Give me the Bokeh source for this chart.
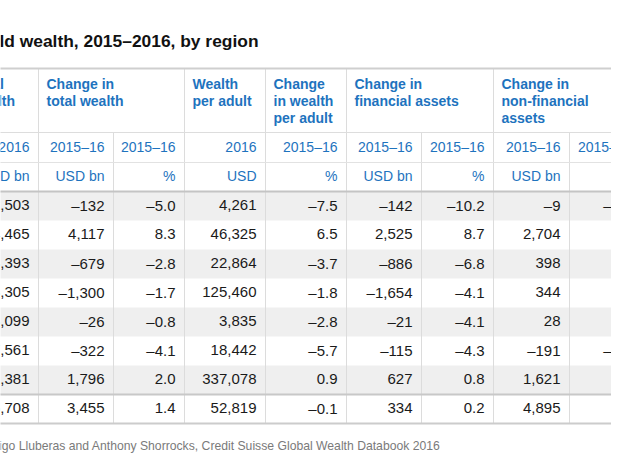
from bokeh.plotting import figure
from bokeh.models import Range1d, ColumnDataSource
from bokeh.embed import file_html
from bokeh.resources import INLINE

# ---------------- data ----------------
title_text = "Table 1 Change in household wealth, 2015\u20132016, by region"
source_text = ("Source: James Davies, Rodrigo Lluberas and Anthony Shorrocks, "
               "Credit Suisse Global Wealth Databook 2016")

group_labels = ["Total\nwealth", "Change in\ntotal wealth", "Wealth\nper adult",
                "Change\nin wealth\nper adult", "Change in\nfinancial assets",
                "Change in\nnon-financial\nassets"]
group_spans = [(0, 1), (1, 3), (3, 4), (4, 5), (5, 7), (7, 9)]
period_labels = ["2016", "2015\u201316", "2015\u201316", "2016", "2015\u201316",
                 "2015\u201316", "2015\u201316", "2015\u201316", "2015\u201316"]
unit_labels = ["USD bn", "USD bn", "%", "USD", "%", "USD bn", "%", "USD bn", "%"]

regions = ["Africa", "Asia-Pacific", "China", "Europe", "India",
           "Latin America", "North America", "World"]
total_wealth_2016 = [2503, 54465, 23393, 73305, 3099, 7561, 91381, 255708]
change_total_usd = [-132, 4117, -679, -1300, -26, -322, 1796, 3455]
change_total_pct = [-5.0, 8.3, -2.8, -1.7, -0.8, -4.1, 2.0, 1.4]
wealth_per_adult = [4261, 46325, 22864, 125460, 3835, 18442, 337078, 52819]
change_per_adult_pct = [-7.5, 6.5, -3.7, -1.8, -2.8, -5.7, 0.9, -0.1]
change_fin_usd = [-142, 2525, -886, -1654, -21, -115, 627, 334]
change_fin_pct = [-10.2, 8.7, -6.8, -4.1, -4.1, -4.3, 0.8, 0.2]
change_nonfin_usd = [-9, 2704, 398, 344, 28, -191, 1621, 4895]
change_nonfin_pct = [-0.6, 9.4, 3.3, 0.9, 1.0, -2.6, 5.6, 3.6]

columns = [(total_wealth_2016, "int"), (change_total_usd, "int"), (change_total_pct, "pct"),
           (wealth_per_adult, "int"), (change_per_adult_pct, "pct"),
           (change_fin_usd, "int"), (change_fin_pct, "pct"),
           (change_nonfin_usd, "int"), (change_nonfin_pct, "pct")]

# ---------------- layout (pixel space of the picture) ----------------
edges = [-37, 38, 113, 184, 265, 346, 421, 493, 569, 641]
table_top = 68
hdr1_bottom = 132
hdr2_bottom = 162
hdr3_bottom = 191
row_h = 29
n_rows = len(regions)
table_bottom = hdr3_bottom + row_h * n_rows
DY = -6.5  # text baseline correction

BLUE = "#1e73be"
TEXT = "#1a1a1a"
FONT = "Liberation Sans"


def fmt(v, kind):
    s = f"{abs(v):,}" if kind == "int" else f"{abs(v):.1f}"
    return ("\u2013" if v < 0 else "") + s


p = figure(width=611, height=457, output_backend="svg", toolbar_location=None,
           x_range=Range1d(0, 611), y_range=Range1d(457, 0), min_border=0)
p.axis.visible = False
p.grid.visible = False
p.outline_line_color = None
p.background_fill_color = "white"
p.border_fill_color = "white"

# zebra rows
zl, zr, zt, zb = [], [], [], []
for i in range(n_rows):
    if i % 2 == 0:
        zl.append(edges[0]); zr.append(edges[-1])
        zt.append(hdr3_bottom + i * row_h); zb.append(hdr3_bottom + (i + 1) * row_h)
p.quad(left=zl, right=zr, top=zt, bottom=zb, fill_color="#efefef", line_color=None)

# vertical lines
group_edges = sorted(set([edges[a] for a, b in group_spans] + [edges[-1]]))
vx0, vy0, vx1, vy1 = [], [], [], []
for e in edges:
    vx0.append(e); vx1.append(e)
    vy0.append(table_top if e in group_edges else hdr1_bottom)
    vy1.append(table_bottom)
p.segment(x0=vx0, y0=vy0, x1=vx1, y1=vy1, line_color="#dcdcdc", line_width=1)

# horizontal lines
def hline(y, color, w):
    p.segment(x0=[edges[0]], y0=[y], x1=[edges[-1]], y1=[y], line_color=color, line_width=w)

hline(table_top, "#cfcfcf", 2)
hline(hdr1_bottom, "#dddddd", 1)
hline(hdr2_bottom, "#e2e2e2", 1)
hline(hdr3_bottom, "#c4c4c4", 2)
hline(hdr3_bottom + row_h * (n_rows - 1), "#c8c8c8", 2)
hline(table_bottom, "#cccccc", 2)

# title and source
p.text(x=[258], y=[46.5 + DY], text=[title_text], text_align="right",
       text_baseline="alphabetic", text_font_size="17.4px", text_font_style="bold",
       text_color="#111111", text_font={"value": FONT})
p.text(x=[440], y=[451.5 + DY], text=[source_text], text_align="right",
       text_baseline="alphabetic", text_font_size="12.2px",
       text_color="#7a7a7a", text_font={"value": FONT})

# group headers (bold, blue, left aligned)
gx, gy, gt = [], [], []
for lab, (a, b) in zip(group_labels, group_spans):
    for k, line in enumerate(lab.split("\n")):
        gx.append(edges[a] + 8); gy.append(89.5 + 17 * k + DY); gt.append(line)
p.text(x=gx, y=gy, text=gt, text_align="left", text_baseline="alphabetic",
       text_font_size="14px", text_font_style="bold", text_color=BLUE,
       text_font={"value": FONT})

# sub headers
sx, sy, st = [], [], []
for j in range(9):
    xr = edges[j + 1] - 9
    sx += [xr, xr]; sy += [152.5 + DY, 181.5 + DY]; st += [period_labels[j], unit_labels[j]]
p.text(x=sx, y=sy, text=st, text_align="right", text_baseline="alphabetic",
       text_font_size="14px", text_color=BLUE, text_font={"value": FONT})

# data cells
dx, dy, dt = [], [], []
for j, (vals, kind) in enumerate(columns):
    xr = edges[j + 1] - 9
    for i, v in enumerate(vals):
        dx.append(xr)
        dy.append(hdr3_bottom + i * row_h + row_h / 2 + 5.5 + DY)
        dt.append(fmt(v, kind))
src = ColumnDataSource(dict(x=dx, y=dy, t=dt))
p.text(x="x", y="y", text="t", source=src, text_align="right",
       text_baseline="alphabetic", text_font_size="15px", text_color=TEXT,
       text_font={"value": FONT})

open("out.html", "w").write(file_html(p, INLINE))
